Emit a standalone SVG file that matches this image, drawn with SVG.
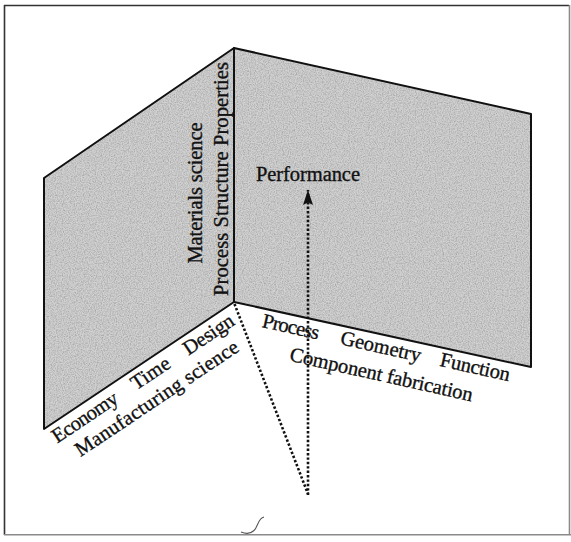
<svg xmlns="http://www.w3.org/2000/svg" width="571" height="542" viewBox="0 0 571 542">
  <style>
    .face { fill: #bebebe; stroke: none; }
    .edge { fill: none; stroke: #111; stroke-width: 2; stroke-linejoin: round; }
    .lbl { font-family: "Liberation Serif", "Times New Roman", serif; font-size: 20.5px; fill: #111; stroke: #111; stroke-width: 0.35px; }
    .dots { fill: none; stroke: #111; stroke-width: 2.6; stroke-dasharray: 2.4 2; }
    .frame-dark { stroke: #333; stroke-width: 1.6; }
    .frame-light { stroke: #8a8a8a; stroke-width: 1.6; }
  </style>
  <defs>
    <!-- fine paper grain for the shaded faces -->
    <filter id="grain" x="0" y="0" width="100%" height="100%">
      <feTurbulence type="fractalNoise" baseFrequency="0.85" numOctaves="2" seed="3" result="n"/>
      <feColorMatrix in="n" type="matrix" values="2 0 0 0 -0.3  2 0 0 0 -0.3  2 0 0 0 -0.3  0 0 0 0 0.25" result="g"/>
      <feComposite in="g" in2="SourceGraphic" operator="in" result="gc"/>
      <feMerge>
        <feMergeNode in="SourceGraphic"/>
        <feMergeNode in="gc"/>
      </feMerge>
    </filter>
    <marker id="head" viewBox="0 0 15 10" refX="15" refY="5" markerWidth="15" markerHeight="10" markerUnits="userSpaceOnUse" orient="auto">
      <path d="M0,0 L15,5 L0,10 L2.5,5 z" fill="#111"/>
    </marker>
  </defs>

  <rect x="0" y="0" width="571" height="542" fill="#fff"/>

  <!-- outer frame -->
  <g id="frame">
    <line class="frame-dark" x1="4" y1="5.5" x2="569" y2="5.5"/>
    <line class="frame-dark" x1="4.5" y1="5" x2="4.5" y2="535"/>
    <line class="frame-light" x1="4" y1="534.8" x2="571" y2="534.8"/>
    <line class="frame-light" x1="569.5" y1="5" x2="569.5" y2="535"/>
  </g>

  <!-- left face: manufacturing science -->
  <g id="face-left">
    <polygon class="face" filter="url(#grain)" points="44,178 234,48 234,302 44,429"/>
    <polygon class="edge" points="44,178 234,48 234,302 44,429"/>
  </g>

  <!-- right face: component fabrication -->
  <g id="face-right">
    <polygon class="face" filter="url(#grain)" points="234,48 531,114 531,367 234,302"/>
    <polygon class="edge" points="234,48 531,114 531,367 234,302"/>
  </g>

  <!-- vertical axis labels -->
  <g id="axis-materials">
    <text class="lbl" transform="translate(227.5,296) rotate(-90)" textLength="234">Process Structure Properties</text>
    <text class="lbl" transform="translate(201.5,263.5) rotate(-90)" textLength="141">Materials science</text>
  </g>

  <!-- left ground axis labels -->
  <g id="axis-manufacturing">
    <text class="lbl" transform="translate(57.3,443.5) rotate(-33.75)" textLength="75">Economy</text>
    <text class="lbl" transform="translate(136.3,390.6) rotate(-33.75)" textLength="43">Time</text>
    <text class="lbl" transform="translate(188.4,355.8) rotate(-33.75)" textLength="57">Design</text>
    <text class="lbl" transform="translate(80.6,457) rotate(-33.75)" textLength="192">Manufacturing science</text>
  </g>

  <!-- right ground axis labels -->
  <g id="axis-fabrication">
    <text class="lbl" transform="translate(261.3,326.9) rotate(12.6)" textLength="58">Process</text>
    <text class="lbl" transform="translate(339.5,344) rotate(12.6)" textLength="82">Geometry</text>
    <text class="lbl" transform="translate(439.1,365.8) rotate(12.6)" textLength="71">Function</text>
    <text class="lbl" transform="translate(288.7,360.6) rotate(12.6)" textLength="187">Component fabrication</text>
  </g>

  <!-- goal -->
  <g id="performance">
    <text class="lbl" x="256" y="181" textLength="104">Performance</text>
  </g>

  <!-- dotted guide lines and the arrow towards performance -->
  <g id="connectors">
    <line class="dots" x1="234.5" y1="304" x2="308" y2="494"/>
    <line class="dots" x1="308" y1="495" x2="308" y2="190" marker-end="url(#head)"/>
  </g>

  <!-- small pen mark near the bottom -->
  <path d="M264,517 C258,518 258,527 254,530.5 C251,533.5 246,534 241,532" fill="none" stroke="#555" stroke-width="1.1"/>
</svg>
